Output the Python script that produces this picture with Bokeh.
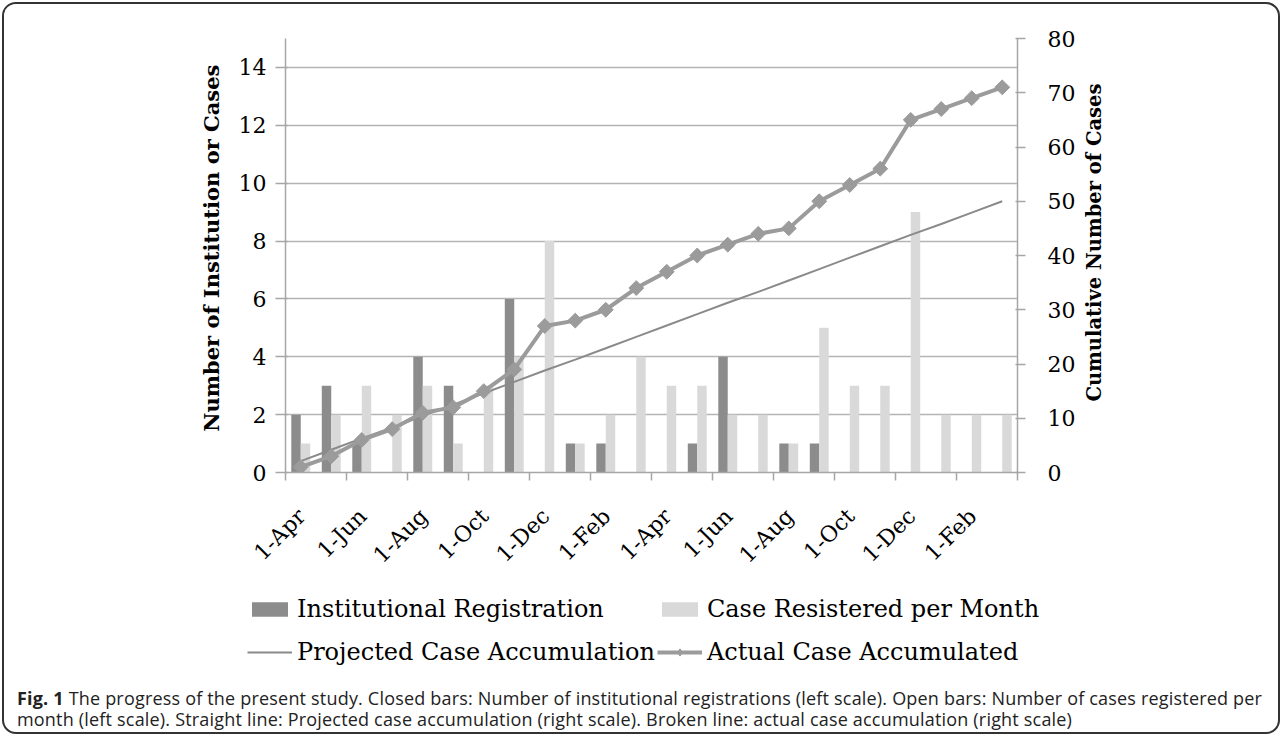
import math
from bokeh.plotting import figure
from bokeh.models import (Range1d, LinearAxis, FixedTicker, Legend, LegendItem,
                          ColumnDataSource, Div, Label)
from bokeh.layouts import column, row
from bokeh.embed import file_html
from bokeh.resources import INLINE

# ---------------- data ----------------
months = ["Apr", "May", "Jun", "Jul", "Aug", "Sep", "Oct", "Nov", "Dec", "Jan", "Feb", "Mar",
          "Apr", "May", "Jun", "Jul", "Aug", "Sep", "Oct", "Nov", "Dec", "Jan", "Feb", "Mar"]
institutional = [2, 3, 1, 0, 4, 3, 0, 6, 0, 1, 1, 0, 0, 1, 4, 0, 1, 1, 0, 0, 0, 0, 0, 0]
cases_per_month = [1, 2, 3, 2, 3, 1, 3, 4, 8, 1, 2, 4, 3, 3, 2, 2, 1, 5, 3, 3, 9, 2, 2, 2]
projected = [2.1, 4.2, 6.3, 8.3, 10.4, 12.5, 14.6, 16.7, 18.8, 20.8, 22.9, 25.0,
             27.1, 29.2, 31.3, 33.3, 35.4, 37.5, 39.6, 41.7, 43.8, 45.8, 47.9, 50.0]
actual = [1, 3, 6, 8, 11, 12, 15, 19, 27, 28, 30, 34, 37, 40, 42, 44, 45, 50, 53, 56, 65, 67, 69, 71]
tick_labels = ["1-Apr", "1-Jun", "1-Aug", "1-Oct", "1-Dec", "1-Feb",
               "1-Apr", "1-Jun", "1-Aug", "1-Oct", "1-Dec", "1-Feb"]
left_ticks = [0, 2, 4, 6, 8, 10, 12, 14]
right_ticks = [0, 10, 20, 30, 40, 50, 60, 70, 80]
left_title = "Number of  Institution or Cases"
right_title = "Cumulative Number of Cases"

# ---------------- layout ----------------
W = 1274                      # full inner width
H = 575                       # chart strip height
LW, CW, RW = 220, 860, 30     # left title strip, chart, right title strip
FL, FR, FT, FB = 61, 793, 34, 475

n = len(months)
centers = [i + 0.5 for i in range(n)]
src = ColumnDataSource(dict(
    xc=centers,
    xi=[c - 0.155 for c in centers],
    xk=[c + 0.155 for c in centers],
    inst=institutional, cases=cases_per_month, proj=projected, act=actual))

AX = "#a6a6a6"
SERIF = "DejaVu Serif"
C_INST, C_CASE, C_PROJ, C_ACT = "#8c8c8c", "#d9d9d9", "#8a8a8a", "#9b9b9b"


def draw(fig, marker="square", angle=math.pi / 4, size=10.5):
    ri = fig.vbar(x="xi", top="inst", width=0.31, source=src, fill_color=C_INST, line_color=None)
    rc = fig.vbar(x="xk", top="cases", width=0.31, source=src, fill_color=C_CASE, line_color=None)
    rp = fig.line(x="xc", y="proj", source=src, y_range_name="cum", line_color=C_PROJ, line_width=2)
    ra_ = fig.line(x="xc", y="act", source=src, y_range_name="cum", line_color=C_ACT, line_width=4)
    rs = fig.scatter(x="xc", y="act", source=src, y_range_name="cum", marker=marker,
                     angle=angle, size=size, fill_color=C_ACT, line_color=C_ACT)
    return ri, rc, rp, ra_, rs


def blank(width, height):
    f = figure(width=width, height=height, output_backend="svg", toolbar_location=None,
               x_range=Range1d(0, width), y_range=Range1d(0, height),
               x_axis_location=None, y_axis_location=None,
               min_border_left=0, min_border_right=0, min_border_top=0, min_border_bottom=0)
    f.outline_line_color = None
    f.grid.visible = False
    f.border_fill_color = "white"
    f.background_fill_color = "white"
    try:
        f.frame_align = False
    except Exception:
        pass
    return f


# ---------------- chart ----------------
p = figure(width=CW, height=H, output_backend="svg", toolbar_location=None,
           x_range=Range1d(0, n), y_range=Range1d(0, 15),
           min_border_left=FL, min_border_right=CW - FR,
           min_border_top=FT, min_border_bottom=H - FB)
p.outline_line_color = None
p.background_fill_color = "white"
p.border_fill_color = "white"
p.extra_y_ranges = {"cum": Range1d(0, 80)}
try:
    p.frame_align = False
except Exception:
    pass
draw(p)

p.xgrid.visible = False
p.ygrid.ticker = FixedTicker(ticks=left_ticks)
p.ygrid.grid_line_color = "#b4b4b4"
p.ygrid.grid_line_width = 1.5

xa = p.xaxis[0]
xa.ticker = FixedTicker(ticks=[centers[i] + 0.03 for i in range(0, n, 2)],
                        minor_ticks=list(range(0, n + 1, 2)))
xa.major_label_overrides = {centers[i] + 0.03: tick_labels[i // 2] for i in range(0, n, 2)}
xa.major_tick_line_color = None
xa.minor_tick_line_color = AX
xa.minor_tick_out = 8
xa.minor_tick_in = 0
xa.minor_tick_line_width = 1.5
xa.axis_line_color = AX
xa.axis_line_width = 1.5
xa.major_label_orientation = math.pi / 4
xa.major_label_text_font = SERIF
xa.major_label_text_font_size = "22px"
xa.major_label_text_color = "black"
xa.major_label_standoff = 32

ya = p.yaxis[0]
ya.ticker = FixedTicker(ticks=left_ticks)
ya.minor_tick_line_color = None
ya.major_tick_line_color = AX
ya.major_tick_out = 10
ya.major_tick_in = 2
ya.major_tick_line_width = 1.5
ya.axis_line_color = AX
ya.axis_line_width = 1.5
ya.major_label_text_font = SERIF
ya.major_label_text_font_size = "22px"
ya.major_label_text_color = "black"
ya.major_label_standoff = 9

ra = LinearAxis(y_range_name="cum", ticker=FixedTicker(ticks=right_ticks))
ra.minor_tick_line_color = None
ra.major_tick_line_color = AX
ra.major_tick_out = 8
ra.major_tick_in = 2
ra.major_tick_line_width = 1.5
ra.axis_line_color = AX
ra.axis_line_width = 1.5
ra.major_label_text_font = SERIF
ra.major_label_text_font_size = "22px"
ra.major_label_text_color = "black"
ra.major_label_standoff = 22
p.add_layout(ra, "right")

# ---------------- axis titles (both read bottom-to-top) ----------------
ltf = blank(LW, H)
ltf.add_layout(Label(x=207, y=335, angle=math.pi / 2, text=left_title,
                     text_align="center", text_baseline="middle",
                     text_font=SERIF, text_font_style="bold", text_font_size="21px",
                     text_color="black"))
rtf = blank(RW, H)
rtf.add_layout(Label(x=10, y=337, angle=math.pi / 2, text=right_title,
                     text_align="center", text_baseline="middle",
                     text_font=SERIF, text_font_style="bold", text_font_size="19.5px",
                     text_color="black"))

# ---------------- legend strip ----------------
LH = 104
lg = figure(width=W, height=LH, output_backend="svg", toolbar_location=None,
            x_range=Range1d(1000, 1001), y_range=Range1d(1000, 1001),
            x_axis_location=None, y_axis_location=None,
            min_border_left=0, min_border_right=0, min_border_top=0, min_border_bottom=0)
lg.extra_y_ranges = {"cum": Range1d(1000, 1001)}
lg.outline_line_color = None
lg.grid.visible = False
lg.border_fill_color = "white"
lg.background_fill_color = "white"
try:
    lg.frame_align = False
except Exception:
    pass
li, lc, lp, la, ls = draw(lg, marker="diamond", angle=0, size=15)

legend = Legend(items=[
    LegendItem(label="Institutional Registration", renderers=[li]),
    LegendItem(label="Case Resistered per Month", renderers=[lc]),
    LegendItem(label="Projected Case Accumulation", renderers=[lp]),
    LegendItem(label="Actual Case Accumulated", renderers=[la, ls]),
], orientation="horizontal", ncols=2, location=(243, 11))
legend.label_text_font = SERIF
legend.label_text_font_size = "24px"
legend.label_text_color = "black"
legend.glyph_width = 45
legend.glyph_height = 18
legend.label_standoff = 5
legend.label_height = 41
legend.spacing = 2
legend.padding = 0
legend.margin = 0
legend.border_line_color = None
legend.background_fill_alpha = 0
lg.add_layout(legend, "center")

# ---------------- caption ----------------
cap = Div(text=("<b>Fig. 1</b> The progress of the present study. Closed bars: Number of institutional "
                "registrations (left scale). Open bars: Number of cases registered per<br>"
                "month (left scale). Straight line: Projected case accumulation (right scale). "
                "Broken line: actual case accumulation (right scale)"),
          width=W, height=49, margin=0,
          styles={"font-family": "'Open Sans'", "font-size": "18px", "line-height": "21px",
                  "letter-spacing": "0.19px", "white-space": "nowrap",
                  "color": "#222222", "padding": "5px 0 0 13px", "box-sizing": "border-box"})

top = row(ltf, p, rtf, spacing=0)
layout = column(top, lg, cap, spacing=0, margin=(2, 0, 0, 2),
                styles={"border": "2px solid #333333", "border-radius": "14px",
                        "overflow": "hidden", "background": "white"})

open("out.html", "w").write(file_html(layout, INLINE))
